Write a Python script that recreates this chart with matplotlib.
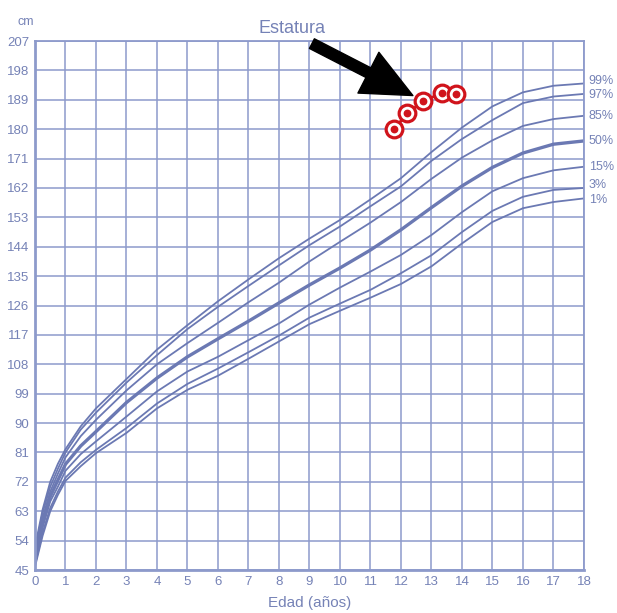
import matplotlib.pyplot as plt

ages = [0, 0.25, 0.5, 0.75, 1, 1.5, 2, 3, 4, 5, 6, 7, 8, 9, 10, 11, 12, 13, 14, 15, 16, 17, 18]
p99 = [52, 63.5, 72, 77.5, 82, 89, 94.5, 103.5, 112.5, 120, 127.3, 134, 140.5, 146.5, 152.2, 158.5, 165, 173, 180.5, 187, 191.3, 193.3, 194]
p97 = [51, 62.5, 70.5, 76, 81, 88, 93.2, 102.4, 110.8, 118.8, 125.6, 132, 138.3, 144.5, 150.2, 156.4, 162.5, 170.3, 177, 182.8, 188, 190, 190.8]
p85 = [50, 61, 69, 74.5, 79.5, 86, 91, 100, 108, 114.5, 120.7, 127, 133, 139.5, 145.5, 151.4, 157.7, 164.8, 171.3, 176.6, 181, 183.1, 184.1]
p50 = [49, 59.5, 67.5, 72.5, 77.4, 83, 87.4, 96.3, 103.8, 110.3, 115.8, 121.2, 126.8, 132.3, 137.5, 143, 149.2, 156, 162.6, 168.3, 172.7, 175.4, 176.4]
p15 = [47.5, 58, 66, 70.5, 75.4, 80.5, 84.4, 92, 99.7, 105.8, 110.3, 115.4, 120.5, 126.3, 131.5, 136.4, 141.5, 147.6, 154.6, 161, 165, 167.4, 168.5]
p3 = [46.5, 56.5, 64, 69, 73.3, 78, 81.8, 88.5, 96, 102, 106.7, 111.7, 116.8, 122.3, 126.6, 130.8, 135.9, 141.4, 148.5, 155, 159.3, 161.4, 162]
p1 = [46, 55.5, 63, 68, 72.3, 76.8, 80.8, 87, 94.5, 100.2, 104.5, 109.7, 115, 120.3, 124.4, 128.4, 132.6, 138, 145, 151.6, 155.8, 157.7, 158.8]

curves = {"99%": p99, "97%": p97, "85%": p85, "50%": p50, "15%": p15, "3%": p3, "1%": p1}
label_shift = {"99%": 0.8, "97%": -0.3, "3%": 0.9, "1%": -0.4}

# patient measurements
pt_age = [11.77, 12.21, 12.73, 13.33, 13.8]
pt_height = [180, 184.9, 188.6, 191, 190.8]

yticks = list(range(45, 208, 9))
xticks = list(range(0, 19))

line_c = '#6b79b3'
grid_c = '#8d9acb'
text_c = '#7582b6'

plt.rcParams['font.family'] = ['Liberation Sans', 'DejaVu Sans']

fig = plt.figure(figsize=(6.17, 6.13), dpi=100)
ax = fig.add_axes([0.0567, 0.0701, 0.8898, 0.863])

for lbl, vals in curves.items():
    lw = 2.4 if lbl == "50%" else 1.3
    ax.plot(ages, vals, color=line_c, linewidth=lw, solid_joinstyle='round')
    ax.text(18.15, vals[-1] + label_shift.get(lbl, 0), lbl, fontsize=9,
            color=text_c, va='center', ha='left')

ax.plot(pt_age, pt_height, color='#d0141c', linewidth=2, zorder=5)
ax.plot(pt_age, pt_height, 'o', markersize=12, markerfacecolor='white',
        markeredgecolor='#d0141c', markeredgewidth=2.3, zorder=6)
ax.plot(pt_age, pt_height, 'o', markersize=4.6, color='#d0141c', zorder=7)

ax.annotate('', xy=(12.39, 190.3), xytext=(9.08, 206.2),
            arrowprops=dict(arrowstyle='simple,head_length=1.2,head_width=1.1,tail_width=0.26',
                            color='black', mutation_scale=30, shrinkA=0, shrinkB=0),
            annotation_clip=False, zorder=8)

ax.set_xlim(0, 18)
ax.set_ylim(45, 207)
ax.set_xticks(xticks)
ax.set_yticks(yticks)
ax.grid(True, color=grid_c, linewidth=1.1)
ax.set_axisbelow(True)
ax.tick_params(length=0, labelsize=9.5, labelcolor=text_c, pad=4)

for s in ax.spines.values():
    s.set_color(grid_c)
    s.set_linewidth(1.3)
ax.spines['left'].set_linewidth(2)
ax.spines['bottom'].set_linewidth(2)

ax.set_title("Estatura", fontsize=13, color=text_c, x=0.468, pad=6)
ax.set_xlabel("Edad (años)", fontsize=11, color=text_c, labelpad=6)
fig.text(18 / 617, 1 - 22 / 613, "cm", fontsize=9, color=text_c, ha='left', va='center')

plt.savefig("out.png", dpi=100)
